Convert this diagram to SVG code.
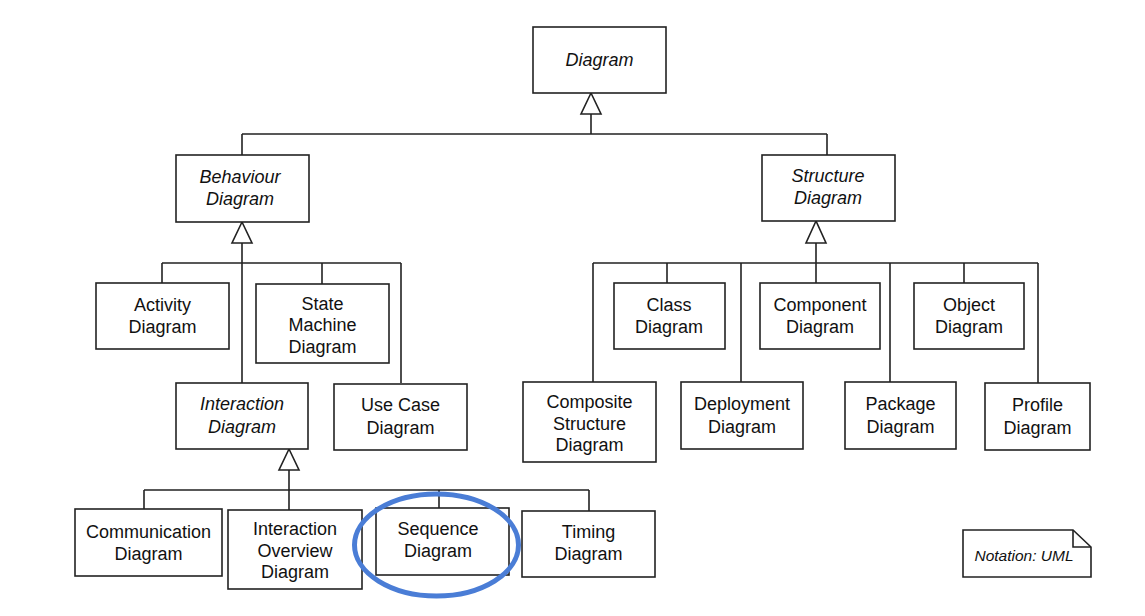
<svg xmlns="http://www.w3.org/2000/svg" width="1145" height="616" viewBox="0 0 1145 616">
<style>
.box{fill:#fff;stroke:#222;stroke-width:1.6}
.ln{fill:none;stroke:#222;stroke-width:1.6}
.tri{fill:#fff;stroke:#222;stroke-width:1.6;stroke-linejoin:miter}
text{font-family:"Liberation Sans",Arial,sans-serif;font-size:18px;fill:#111;text-anchor:middle}
.it{font-style:italic}
</style>
<rect width="1145" height="616" fill="#fff"/>
<g id="connectors">
<path class="ln" d="M591,114V134M242,134H827M242,134V155M827,134V155"/>
<polygon class="tri" points="591,93 581,114 601,114"/>
<path class="ln" d="M242,243V383M162,263H401M162,263V283M322,263V284M401,263V383"/>
<polygon class="tri" points="242,222 232,243 252,243"/>
<path class="ln" d="M289,470V510M144,490H589M144,490V509M439,490V508M589,490V511"/>
<polygon class="tri" points="289,449 279,470 299,470"/>
<path class="ln" d="M816,243V283M593,263H1038M593,263V382M667,263V283M741,263V382M890,263V382M964,263V283M1038,263V383"/>
<polygon class="tri" points="816,221 806,243 826,243"/>
</g>
<g id="diagram"><rect class="box" x="533" y="27" width="133" height="66"/><text class="it" x="599.5" y="66">Diagram</text></g>
<g id="behaviour"><rect class="box" x="176" y="155" width="133" height="67"/><text class="it" x="240" y="183">Behaviour</text><text class="it" x="240" y="205">Diagram</text></g>
<g id="structure"><rect class="box" x="762" y="155" width="133" height="66"/><text class="it" x="828" y="182">Structure</text><text class="it" x="828" y="204">Diagram</text></g>
<g id="activity"><rect class="box" x="96" y="283" width="133" height="66"/><text x="162.5" y="311">Activity</text><text x="162.5" y="333">Diagram</text></g>
<g id="statemachine"><rect class="box" x="256" y="284" width="133" height="79"/><text x="322.5" y="309.5">State</text><text x="322.5" y="331">Machine</text><text x="322.5" y="352.5">Diagram</text></g>
<g id="interaction"><rect class="box" x="176" y="383" width="132" height="66"/><text class="it" x="242" y="410">Interaction</text><text class="it" x="242" y="433">Diagram</text></g>
<g id="usecase"><rect class="box" x="334" y="384" width="133" height="66"/><text x="400.5" y="411">Use Case</text><text x="400.5" y="434">Diagram</text></g>
<g id="communication"><rect class="box" x="75" y="509" width="147" height="67"/><text x="148.5" y="538">Communication</text><text x="148.5" y="560">Diagram</text></g>
<g id="interactionoverview"><rect class="box" x="228" y="510" width="134" height="79"/><text x="295" y="535">Interaction</text><text x="295" y="556.5">Overview</text><text x="295" y="578">Diagram</text></g>
<g id="sequence"><rect class="box" x="376" y="508" width="133" height="67"/><text x="438" y="535">Sequence</text><text x="438" y="557">Diagram</text></g>
<g id="timing"><rect class="box" x="522" y="511" width="133" height="66"/><text x="588.5" y="538">Timing</text><text x="588.5" y="560">Diagram</text></g>
<g id="class"><rect class="box" x="614" y="283" width="111" height="66"/><text x="669" y="311">Class</text><text x="669" y="333">Diagram</text></g>
<g id="component"><rect class="box" x="760" y="283" width="120" height="66"/><text x="820" y="311">Component</text><text x="820" y="333">Diagram</text></g>
<g id="object"><rect class="box" x="914" y="283" width="110" height="66"/><text x="969" y="311">Object</text><text x="969" y="333">Diagram</text></g>
<g id="composite"><rect class="box" x="523" y="382" width="133" height="80"/><text x="589.5" y="408">Composite</text><text x="589.5" y="429.5">Structure</text><text x="589.5" y="451">Diagram</text></g>
<g id="deployment"><rect class="box" x="681" y="382" width="122" height="67"/><text x="742" y="410">Deployment</text><text x="742" y="433">Diagram</text></g>
<g id="package"><rect class="box" x="845" y="382" width="111" height="67"/><text x="900.5" y="410">Package</text><text x="900.5" y="433">Diagram</text></g>
<g id="profile"><rect class="box" x="985" y="383" width="105" height="67"/><text x="1037.5" y="411">Profile</text><text x="1037.5" y="434">Diagram</text></g>
<g id="note"><path class="box" d="M963,530H1073L1091,547V577H963Z"/><path class="ln" d="M1073,530V547H1091"/><text class="it" x="1024" y="561" style="font-size:15.5px">Notation: UML</text></g>
<g id="highlight"><ellipse cx="436.5" cy="545" rx="82" ry="51" fill="none" stroke="#4a7dd6" stroke-width="5"/></g>
</svg>
